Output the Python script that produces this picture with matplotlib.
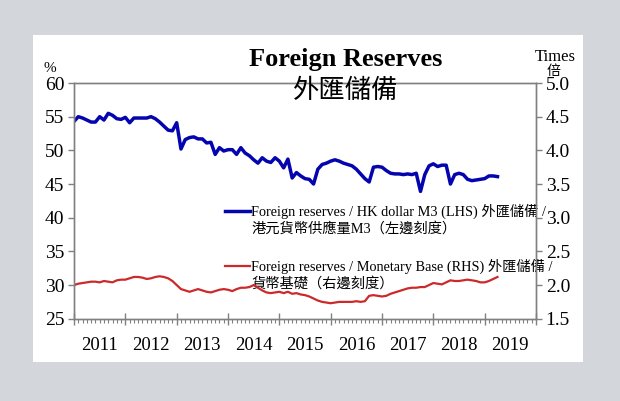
import numpy as np
import matplotlib
matplotlib.use("Agg")
import matplotlib.pyplot as plt
import matplotlib.transforms as mtransforms
from matplotlib.lines import Line2D
from matplotlib.patches import Rectangle
from matplotlib.ticker import MultipleLocator, FormatStrFormatter

# monthly data, Jan 2011 - Apr 2019
start_year = 2011
# foreign reserves / HK dollar M3, % (LHS)
m3_ratio = [54.3, 55.0, 54.8, 54.5, 54.2, 54.2, 55.0, 54.5, 55.5, 55.2,
            54.7, 54.6, 54.9, 54.1, 54.8, 54.8, 54.8, 54.8, 55.0, 54.7,
            54.2, 53.6, 53.0, 52.9, 54.1, 50.2, 51.6, 51.9, 52.0, 51.7,
            51.7, 51.1, 51.2, 49.4, 50.4, 49.9, 50.1, 50.1, 49.4, 50.4,
            49.6, 49.2, 48.6, 48.1, 48.9, 48.4, 48.2, 48.9, 48.4, 47.4,
            48.7, 45.9, 46.7, 46.2, 45.8, 45.7, 45.0, 47.2, 47.9, 48.1,
            48.4, 48.6, 48.4, 48.1, 47.9, 47.7, 47.2, 46.5, 45.8, 45.3,
            47.5, 47.6, 47.5, 47.0, 46.6, 46.5, 46.5, 46.4, 46.5, 46.4,
            46.6, 43.9, 46.4, 47.7, 48.0, 47.6, 47.8, 47.8, 45.0, 46.4,
            46.6, 46.4, 45.7, 45.5, 45.6, 45.7, 45.8, 46.2, 46.2, 46.1]
# foreign reserves / monetary base, times (RHS)
mb_ratio = [2.00, 2.02, 2.03, 2.04, 2.05, 2.05, 2.04, 2.06, 2.05, 2.04,
            2.07, 2.08, 2.08, 2.10, 2.12, 2.12, 2.11, 2.09, 2.10, 2.12,
            2.13, 2.12, 2.10, 2.06, 2.00, 1.94, 1.92, 1.90, 1.92, 1.94,
            1.92, 1.90, 1.89, 1.91, 1.93, 1.94, 1.93, 1.91, 1.94, 1.96,
            1.96, 1.97, 2.00, 1.96, 1.92, 1.89, 1.88, 1.89, 1.90, 1.88,
            1.90, 1.87, 1.88, 1.86, 1.85, 1.83, 1.80, 1.77, 1.75, 1.74,
            1.73, 1.74, 1.75, 1.75, 1.75, 1.75, 1.76, 1.75, 1.76, 1.84,
            1.85, 1.84, 1.83, 1.84, 1.87, 1.89, 1.91, 1.93, 1.95, 1.96,
            1.96, 1.97, 1.97, 2.00, 2.03, 2.02, 2.01, 2.04, 2.07, 2.06,
            2.06, 2.07, 2.08, 2.07, 2.06, 2.04, 2.04, 2.06, 2.09, 2.12]
years = list(range(2011, 2020))

m3_label = ["Foreign reserves / HK dollar M3 (LHS) 外匯儲備 /", "港元貨幣供應量M3（左邊刻度）"]
mb_label = ["Foreign reserves / Monetary Base (RHS) 外匯儲備 /", "貨幣基礎（右邊刻度）"]

serif = ['Liberation Serif', 'Noto Sans CJK TC']
cjk = ['Noto Sans CJK TC', 'Liberation Serif']
blue = '#0505b0'
red = '#cc2a2a'
grey = '#808080'

x = start_year + np.arange(len(m3_ratio)) / 12

fig = plt.figure(figsize=(6.2, 4.01), dpi=100)
fig.patch.set_facecolor('#d3d6da')
fig.patches.append(Rectangle((0.053, 0.097), 0.888, 0.815, transform=fig.transFigure,
                             facecolor='white', edgecolor='none', zorder=-10))

ax = fig.add_axes([0.1194, 0.2052, 0.7451, 0.5878])
ax.set_facecolor('none')
ax2 = ax.twinx()

ax.plot(x, m3_ratio, color=blue, lw=2.5, solid_joinstyle='round')
ax2.plot(x, mb_ratio, color=red, lw=1.6, solid_joinstyle='round')

ax.set_xlim(2011, 2020)
ax.set_ylim(25, 60)
ax2.set_ylim(1.5, 5.0)
ax.yaxis.set_major_locator(MultipleLocator(5))
ax2.yaxis.set_major_locator(MultipleLocator(0.5))
ax2.yaxis.set_major_formatter(FormatStrFormatter('%.1f'))
ax.xaxis.set_major_locator(MultipleLocator(1))
ax.xaxis.set_minor_locator(MultipleLocator(1 / 12))
ax.set_xticklabels([])

for a in (ax, ax2):
    for s in a.spines.values():
        s.set_color(grey)
        s.set_linewidth(1.0)
    a.tick_params(axis='y', which='major', direction='out', length=4, width=1,
                  color=grey, labelsize=14, pad=3)
    for lab in a.get_yticklabels():
        lab.set_family(serif)
ax.tick_params(axis='x', which='major', direction='inout', length=8, width=1, color=grey)
ax.tick_params(axis='x', which='minor', direction='out', length=3, width=0.8, color=grey)

# year labels centred between ticks
trans = mtransforms.blended_transform_factory(ax.transData, ax.transAxes)
for yr in years:
    ax.text(yr + 0.5, -0.112, str(yr), transform=trans, ha='center', va='center',
            fontsize=13.5, family=serif)

# titles and units
fig.text(0.557, 0.852, "Foreign Reserves", ha='center', va='center', fontsize=19,
         fontweight='bold', family=serif)
fig.text(0.558, 0.774, "外匯儲備", ha='center', va='center', fontsize=19, family=cjk)
fig.text(0.080, 0.830, "%", ha='center', va='center', fontsize=11, family=serif)
fig.text(0.895, 0.858, "Times", ha='center', va='center', fontsize=12, family=serif)
fig.text(0.893, 0.824, "倍", ha='center', va='center', fontsize=10, family=cjk)

# legend, drawn by hand so the key line sits at the first text line
for col, lab, ymid in [(blue, m3_label, 0.456), (red, mb_label, 0.223)]:
    lw = 2.5 if col == blue else 1.6
    ax.add_line(Line2D([0.327, 0.382], [ymid, ymid], transform=ax.transAxes,
                       color=col, lw=lw, clip_on=False))
    for k, line in enumerate(lab):
        ax.text(0.383, ymid - 0.076 * k, line, transform=ax.transAxes, ha='left',
                va='center', fontsize=10.3, family=serif, clip_on=False, zorder=5)

fig.savefig('out.png', dpi=100, facecolor=fig.get_facecolor())
